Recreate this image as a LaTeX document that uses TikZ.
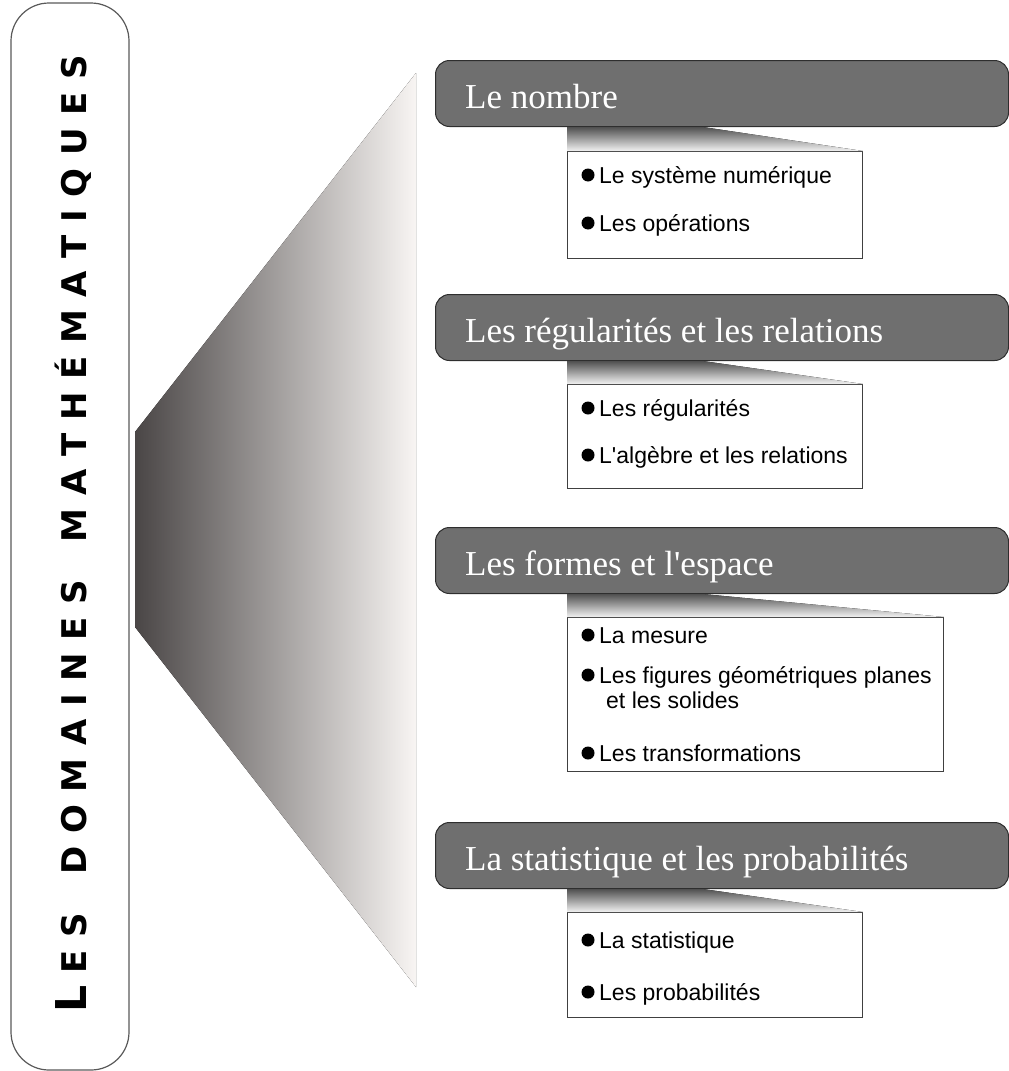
\documentclass[tikz,border=0pt]{standalone}
\usepackage{fontspec}
\setmainfont{Liberation Serif}
\newfontfamily\timesf{Liberation Serif}
\newfontfamily\arialf{Liberation Sans}
\newfontfamily\titlef{DejaVu Sans}
\usetikzlibrary{calc}
\definecolor{hdrfill}{HTML}{6F6F6F}
\definecolor{hdrline}{HTML}{2E2E2E}
\definecolor{wedgeL}{HTML}{4A4646}
\definecolor{wedgeR}{HTML}{F8F5F3}
\definecolor{boxline}{HTML}{404040}
\definecolor{miniTop}{HTML}{505050}
\definecolor{miniBot}{HTML}{F2F2F2}
\tikzset{
  hdr/.style={draw=hdrline, line width=1pt, fill=hdrfill, rounded corners=14pt,
    minimum height=66pt, minimum width=573pt, anchor=north west, inner sep=0pt},
  hdrtext/.style={anchor=base west, inner sep=0pt, text=white,
    font=\timesf\fontsize{35}{40}\selectfont},
  bbox/.style={draw=boxline, line width=0.9pt, fill=white, anchor=north west,
    minimum width=295pt, inner sep=0pt},
  item/.style={anchor=base west, inner sep=0pt, font=\arialf\fontsize{23}{27}\selectfont},
  dot/.style={circle, fill=black, inner sep=0pt, minimum size=13pt},
  mini/.style={top color=miniTop, bottom color=miniBot},
}
\newcommand{\bigL}{{\fontsize{42.5}{42.5}\selectfont L}}
\newcommand{\scl}[1]{{\fontsize{34}{34}\selectfont #1}}
\begin{document}
\begin{tikzpicture}[x=1pt,y=-1pt]
\useasboundingbox (0,0) rectangle (1009,1071);

% left rounded frame
\draw[line width=1.2pt, draw=gray!70!black, rounded corners=38pt] (11,3) rectangle (129,1070);

% title
\node[rotate=90, anchor=base west, inner sep=0pt] (title) at (86,1013)
  {\titlef\bfseries\hbox to 958pt{\bigL\hfill\scl{E}\hfill\scl{S}\hfill\hfill\hfill
   \scl{D}\hfill\scl{O}\hfill\scl{M}\hfill\scl{A}\hfill\scl{I}\hfill\scl{N}\hfill\scl{E}\hfill\scl{S}\hfill\hfill\hfill
   \scl{M}\hfill\scl{A}\hfill\scl{T}\hfill\scl{H}\hfill\scl{É}\hfill\scl{M}\hfill\scl{A}\hfill\scl{T}\hfill\scl{I}\hfill\scl{Q}\hfill\scl{U}\hfill\scl{E}\hfill\scl{S}}};

% big gradient wedge
\fill[left color=wedgeL, right color=wedgeR] (135,432) -- (135,627) -- (416,987) -- (416,73) -- cycle;

% headers
\node[hdr] (h1) at (435,60) {};
\node[hdrtext] (h1t) at (465,108) {Le nombre};
\node[hdr] (h2) at (435,294) {};
\node[hdrtext] (h2t) at (465,342) {Les régularités et les relations};
\node[hdr] (h3) at (435,527) {};
\node[hdrtext] (h3t) at (465,575) {Les formes et l'espace};
\node[hdr] (h4) at (435,822) {};
\node[hdrtext] (h4t) at (465,870) {La statistique et les probabilités};

% boxes
\node[bbox, minimum height=107pt] (b1) at (567,151) {};
\node[bbox, minimum height=104pt] (b2) at (567,384) {};
\node[bbox, minimum height=154pt, minimum width=376pt] (b3) at (567,617) {};
\node[bbox, minimum height=105pt] (b4) at (567,912) {};

% mini wedges
\fill[mini] (h1.south -| b1.west) -- ($(h1.south -| b1.west)+(136,0)$) -- (b1.north east) -- (b1.north west) -- cycle;
\fill[mini] (h2.south -| b2.west) -- ($(h2.south -| b2.west)+(136,0)$) -- (b2.north east) -- (b2.north west) -- cycle;
\fill[mini] (h3.south -| b3.west) -- ($(h3.south -| b3.west)+(136,0)$) -- (b3.north east) -- (b3.north west) -- cycle;
\fill[mini] (h4.south -| b4.west) -- ($(h4.south -| b4.west)+(136,0)$) -- (b4.north east) -- (b4.north west) -- cycle;

% items box 1
\node[dot] (d11) at (588,175) {};
\node[item] (i11) at (599,183) {Le système numérique};
\node[dot] (d12) at (588,223) {};
\node[item] (i12) at (599,231) {Les opérations};
% box 2
\node[dot] (d21) at (588,408) {};
\node[item] (i21) at (599,416) {Les régularités};
\node[dot] (d22) at (588,455) {};
\node[item] (i22) at (599,463) {L'algèbre et les relations};
% box 3
\node[dot] (d31) at (588,635) {};
\node[item] (i31) at (599,643) {La mesure};
\node[dot] (d32) at (588,675) {};
\node[item] (i32) at (599,683) {Les figures géométriques planes};
\node[item] (i33) at (606,708) {et les solides};
\node[dot] (d34) at (588,753) {};
\node[item] (i34) at (599,761) {Les transformations};
% box 4
\node[dot] (d41) at (588,940) {};
\node[item] (i41) at (599,948) {La statistique};
\node[dot] (d42) at (588,992) {};
\node[item] (i42) at (599,1000) {Les probabilités};
\end{tikzpicture}
\end{document}
